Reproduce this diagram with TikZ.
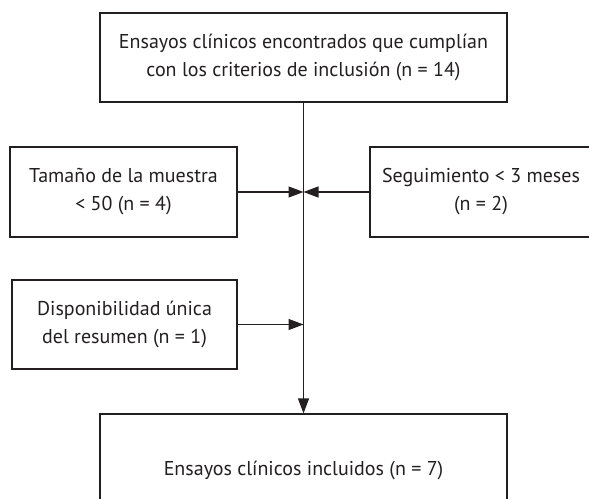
\documentclass[tikz,border=0pt]{standalone}
\usepackage{fontspec}
\setmainfont{PT Sans}
\usepackage{tikz}
\usetikzlibrary{arrows.meta, positioning, calc}
\definecolor{boxline}{RGB}{35, 31, 32}
\tikzset{
  >=Triangle,
  flowbox/.style={draw=boxline, line width=1.2pt, align=center, inner sep=0pt, font=\fontsize{20}{28}\selectfont, text=boxline},
  flowarrow/.style={-{Triangle[length=15pt, width=11pt]}, line width=1.2pt, boxline}
}
\begin{document}
\begin{tikzpicture}[x=1pt, y=-1pt]
    \useasboundingbox (0,0) rectangle (589,498);
    \clip (0,0) rectangle (589,498);
    \node (found) [flowbox, minimum width=407pt, minimum height=89pt] at (303.5,57.5) {Ensayos clínicos encontrados que cumplían\\con los criterios de inclusión (n = 14)};
    \node (sample) [flowbox, minimum width=227pt, minimum height=90pt] at (123.5,192) {Tamaño de la muestra\\< 50 (n = 4)};
    \node (follow) [flowbox, minimum width=222pt, minimum height=90pt] at (481,192) {Seguimiento < 3 meses\\(n = 2)};
    \node (abstract) [flowbox, minimum width=225pt, minimum height=89pt] at (124.5,324.5) {Disponibilidad única\\del resumen (n = 1)};
    \node (included) [flowbox, minimum width=407pt, minimum height=112pt] at (303.5,470) {Ensayos clínicos incluidos (n = 7)};
    \coordinate (j1) at (found.south |- sample.east);
    \coordinate (j2) at (found.south |- abstract.east);
    \draw[flowarrow] (found.south) -- (included.north);
    \draw[flowarrow] (sample.east) -- (j1);
    \draw[flowarrow] (follow.west) -- (j1);
    \draw[flowarrow] (abstract.east) -- (j2);
\end{tikzpicture}
\end{document}
